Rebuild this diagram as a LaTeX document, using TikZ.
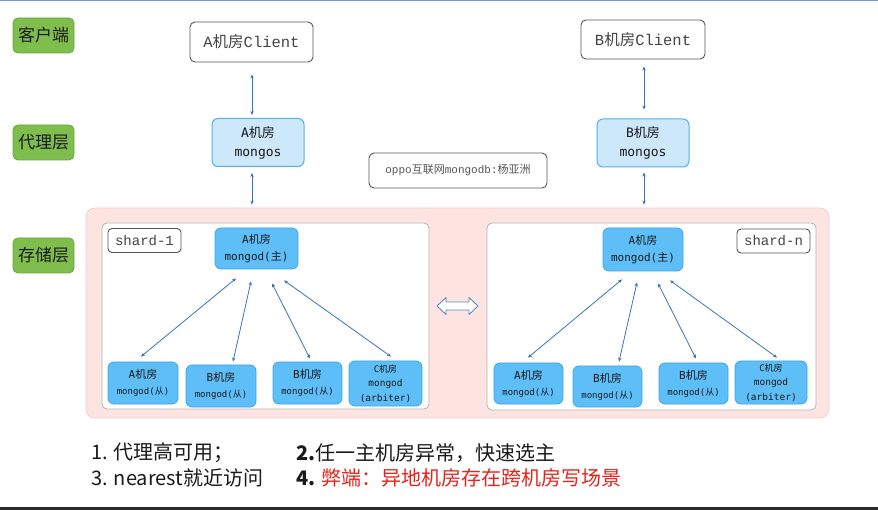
\documentclass[tikz,border=0pt]{standalone}
\usepackage{fontspec}
\setmainfont{Noto Sans CJK SC}
\newfontfamily\cjk{Noto Sans CJK SC}
\newfontfamily\courmono{Liberation Mono}
\newfontfamily\sansmono{DejaVu Sans Mono}
\usetikzlibrary{arrows.meta,calc}

\definecolor{greenfill}{HTML}{7FBE4D}
\definecolor{greenedge}{HTML}{6AA63B}
\definecolor{mongosfill}{HTML}{CDE7FB}
\definecolor{mongosedge}{HTML}{52B2EE}
\definecolor{dfill}{HTML}{5EBEF8}
\definecolor{dedge}{HTML}{3EA5EC}
\definecolor{pinkfill}{HTML}{FDE4E0}
\definecolor{pinkedge}{HTML}{F4CFC9}
\definecolor{linkblue}{HTML}{3A74B4}
\definecolor{boxgray}{HTML}{555555}
\definecolor{shardedge}{HTML}{B4B4B4}
\definecolor{textdark}{HTML}{1A1A1A}
\definecolor{warnred}{HTML}{E5241B}
\definecolor{topline}{HTML}{6A9AD6}
\definecolor{bottombar}{HTML}{2B2B2B}

\tikzset{
  layer/.style={draw=greenedge, fill=greenfill, rounded corners=5pt, line width=0.8pt,
    minimum width=61pt, minimum height=35pt, inner sep=0pt, text=textdark,
    font=\cjk\fontsize{17}{17}\selectfont},
  client/.style={draw=boxgray, fill=white, rounded corners=5pt, line width=0.9pt,
    inner sep=0pt, text=boxgray!80!black, font=\courmono\fontsize{15.5}{16}\selectfont},
  mongosbox/.style={draw=mongosedge, fill=mongosfill, rounded corners=6pt, line width=1pt,
    minimum width=92pt, minimum height=48pt, inner sep=0pt, align=center, text=textdark,
    font=\sansmono\fontsize{13}{19}\selectfont},
  storebox/.style={draw=pinkedge, fill=pinkfill, rounded corners=9pt, line width=0.8pt,
    minimum width=743pt, minimum height=210pt, inner sep=0pt},
  shardbox/.style={draw=shardedge, fill=white, rounded corners=5pt, line width=0.8pt,
    inner sep=0pt},
  tagbox/.style={draw=boxgray, fill=white, rounded corners=4pt, line width=0.9pt,
    minimum width=73pt, minimum height=24pt, inner sep=0pt, text=boxgray!80!black,
    font=\courmono\fontsize{14}{14}\selectfont},
  primary/.style={draw=dedge, fill=dfill, rounded corners=6pt, line width=0.8pt,
    inner sep=0pt, align=center, text=textdark, font=\sansmono\fontsize{11}{17}\selectfont},
  secondary/.style={draw=dedge, fill=dfill, rounded corners=6pt, line width=0.8pt,
    inner sep=0pt, align=center, text=textdark, font=\sansmono\fontsize{9}{16}\selectfont},
  link/.style={draw=linkblue, line width=0.8pt,
    {Stealth[length=4pt,width=3.4pt]}-{Stealth[length=4pt,width=3.4pt]}},
  swaparrow/.style={draw=linkblue!85, fill=white, line width=0.9pt, line join=round},
  note/.style={anchor=west, inner sep=0pt, text=textdark,
    font=\fontsize{20}{20}\selectfont},
}

\begin{document}
\begin{tikzpicture}[x=1pt,y=-1pt]
\useasboundingbox (0,0) rectangle (878,510);
\fill[white] (0,0) rectangle (878,510);
\fill[topline] (0,0) rectangle (878,1.5);
\fill[bottombar] (0,507) rectangle (878,510);

% layer labels
\node[layer] (lclient) at (43.5,35.5) {客户端};
\node[layer] (lproxy)  at (43.5,142.5) {代理层};
\node[layer] (lstore)  at (43.5,255.5) {存储层};

% clients
\node[client, minimum width=123pt, minimum height=40pt] (clientA) at (251.5,42) {A{\cjk 机房}Client};
\node[client, minimum width=124pt, minimum height=39pt] (clientB) at (643,39.5) {B{\cjk 机房}Client};

% mongos routers
\node[mongosbox] (mongosA) at (258,142.5) {A{\cjk 机房}\\mongos};
\node[mongosbox] (mongosB) at (643,143) {B{\cjk 机房}\\mongos};

% author tag
\node[client, minimum width=178pt, minimum height=35pt,
      font=\courmono\fontsize{11}{11}\selectfont, text=boxgray] (author) at (458,170.5)
  {oppo{\cjk 互联网}mongodb:{\cjk 杨亚洲}};

% storage layer
\node[storebox] (store) at (457.5,313) {};
\node[shardbox, minimum width=327pt, minimum height=186pt] (shardL) at (265.5,316) {};
\node[shardbox, minimum width=329pt, minimum height=187pt] (shardR) at (651.5,316.5) {};
\node[tagbox] (tagL) at (144.5,240.5) {shard-1};
\node[tagbox] (tagR) at (773.5,241) {shard-n};

% hollow two-way arrow between the shards
\coordinate (swap) at (457.5,306);
\draw[swaparrow] ($(swap)+(-20.5,0)$) -- ++(9,-8.5) -- ++(0,4.5) -- ++(23,0)
  -- ++(0,-4.5) -- ++(9,8.5) -- ++(-9,8.5) -- ++(0,-4.5) -- ++(-23,0)
  -- ++(0,4.5) -- cycle;

% shard-1 replica set
\node[primary, minimum width=83pt, minimum height=41pt] (P1) at (256.5,248.5)
  {A{\cjk 机房}\\mongod({\cjk 主})};
\node[secondary, minimum width=70pt, minimum height=42pt] (S1a) at (143,383)
  {{\fontsize{11}{16}\selectfont A{\cjk 机房}}\\mongod({\cjk 从})};
\node[secondary, minimum width=70pt, minimum height=42pt] (S1b) at (221,386)
  {{\fontsize{11}{16}\selectfont B{\cjk 机房}}\\mongod({\cjk 从})};
\node[secondary, minimum width=69pt, minimum height=42pt] (S1c) at (307.5,383)
  {{\fontsize{11}{16}\selectfont B{\cjk 机房}}\\mongod({\cjk 从})};
\node[secondary, minimum width=73pt, minimum height=45pt,
      font=\sansmono\fontsize{9.5}{14.5}\selectfont] (S1d) at (385.5,383.5)
  {{\fontsize{9}{14.5}\selectfont C{\cjk 机房}}\\mongod\\(arbiter)};

% shard-n replica set
\node[primary, minimum width=80pt, minimum height=43pt] (P2) at (643,249.5)
  {A{\cjk 机房}\\mongod({\cjk 主})};
\node[secondary, minimum width=69pt, minimum height=41pt] (S2a) at (528.5,383.5)
  {{\fontsize{11}{16}\selectfont A{\cjk 机房}}\\mongod({\cjk 从})};
\node[secondary, minimum width=69pt, minimum height=41pt] (S2b) at (607.5,386.5)
  {{\fontsize{11}{16}\selectfont B{\cjk 机房}}\\mongod({\cjk 从})};
\node[secondary, minimum width=69pt, minimum height=41pt] (S2c) at (693.5,383.5)
  {{\fontsize{11}{16}\selectfont B{\cjk 机房}}\\mongod({\cjk 从})};
\node[secondary, minimum width=72pt, minimum height=43pt,
      font=\sansmono\fontsize{9.5}{14.5}\selectfont] (S2d) at (771,382.5)
  {{\fontsize{9}{14.5}\selectfont C{\cjk 机房}}\\mongod\\(arbiter)};

% client <-> mongos <-> storage
\draw[link] ($(clientA.south)+(0.5,12)$) -- ($(mongosA.north -| clientA.south)+(0.5,-3)$);
\draw[link] ($(mongosA.south -| clientA.south)+(0.5,6)$) -- ($(store.north -| clientA.south)+(0.5,-3)$);
\draw[link] ($(clientB.south)+(1,7)$) -- ($(mongosB.north -| clientB.south)+(1,-9)$);
\draw[link] ($(mongosB.south -| clientB.south)+(1,5)$) -- ($(store.north -| clientB.south)+(1,-3)$);

% replication links, shard-1
\draw[link] ($(P1.south)+(-20.5,9)$) -- ($(S1a.north)+(-2,-5)$);
\draw[link] ($(P1.south)+(-5.5,12)$) -- ($(S1b.north)+(12,-3)$);
\draw[link] ($(P1.south)+(15.5,14)$) -- ($(S1c.north)+(2.5,-3)$);
\draw[link] ($(P1.south)+(27.5,11)$) -- ($(S1d.north)+(5.5,-4)$);

% replication links, shard-n
\draw[link] ($(P2.south)+(-21,8)$) -- ($(S2a.north)+(-0.5,-5)$);
\draw[link] ($(P2.south)+(-6,11)$) -- ($(S2b.north)+(11.5,-4)$);
\draw[link] ($(P2.south)+(15,12)$) -- ($(S2c.north)+(2.5,-4)$);
\draw[link] ($(P2.south)+(27,9)$) -- ($(S2d.north)+(6,-3)$);

% summary notes
\node[note] (n1) at (91,453) {1. 代理高可用；};
\node[note] (n2) at (296,453) {\textbf{2.}任一主机房异常，快速选主};
\node[note] (n3) at (91,478) {3. nearest就近访问};
\node[note] (n4) at (296,478) {\textbf{4.} \textcolor{warnred}{弊端：异地机房存在跨机房写场景}};
\end{tikzpicture}
\end{document}
